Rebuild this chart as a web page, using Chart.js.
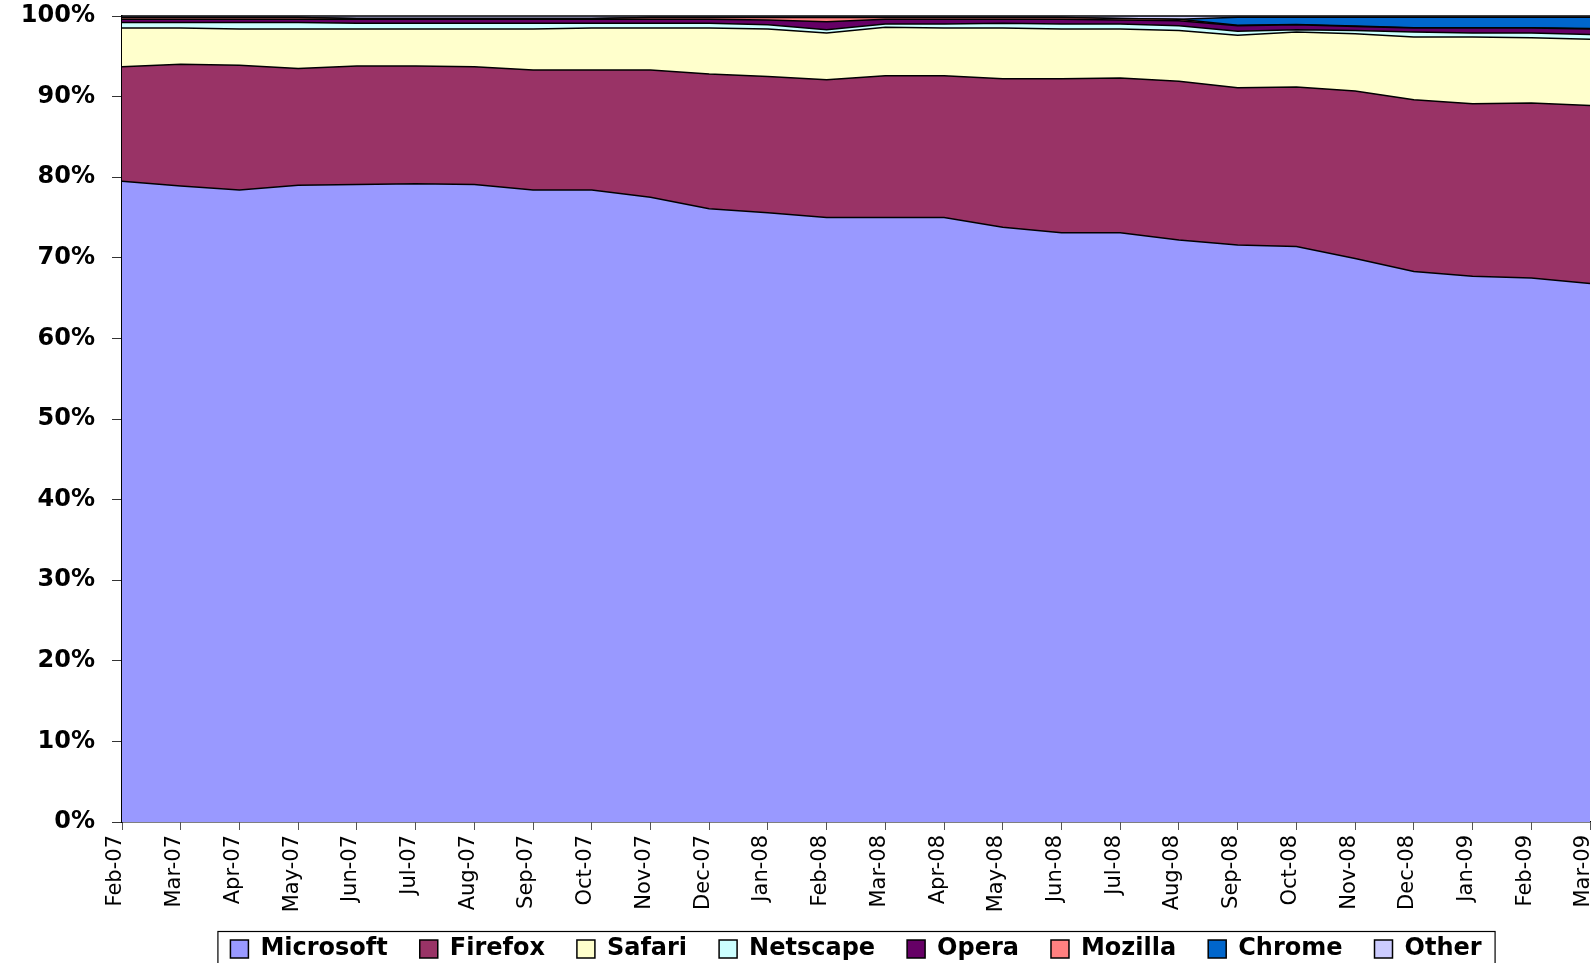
<!DOCTYPE html>
<html>
<head>
<meta charset="utf-8">
<script src="https://cdn.jsdelivr.net/npm/chart.js@4.4.1/dist/chart.umd.min.js"></script>
<style>
  html, body { margin: 0; padding: 0; background: #fff; }
  #chart { display: block; }
</style>
</head>
<body>
<canvas id="chart" width="1591" height="963" style="width:1591px;height:963px"></canvas>
<script>
const months = ['Feb-07', 'Mar-07', 'Apr-07', 'May-07', 'Jun-07', 'Jul-07', 'Aug-07', 'Sep-07', 'Oct-07',
  'Nov-07', 'Dec-07', 'Jan-08', 'Feb-08', 'Mar-08', 'Apr-08', 'May-08', 'Jun-08', 'Jul-08', 'Aug-08',
  'Sep-08', 'Oct-08', 'Nov-08', 'Dec-08', 'Jan-09', 'Feb-09', 'Mar-09'];

const microsoft = [79.5, 78.9, 78.4, 79.0, 79.1, 79.2, 79.1, 78.4, 78.4, 77.5, 76.1, 75.6, 75.0, 75.0, 75.0,
  73.8, 73.1, 73.1, 72.2, 71.6, 71.4, 69.9, 68.3, 67.7, 67.5, 66.8];
const firefox = [14.2, 15.1, 15.5, 14.5, 14.7, 14.6, 14.6, 14.9, 14.9, 15.8, 16.7, 16.9, 17.1, 17.6, 17.6,
  18.4, 19.1, 19.2, 19.7, 19.5, 19.8, 20.8, 21.3, 21.4, 21.7, 22.1];
const safari = [4.8, 4.5, 4.5, 4.9, 4.6, 4.6, 4.7, 5.1, 5.2, 5.2, 5.7, 5.9, 5.8, 6.0, 5.9,
  6.3, 6.2, 6.1, 6.3, 6.5, 6.8, 7.1, 7.8, 8.3, 8.1, 8.2];
const netscape = [0.7, 0.7, 0.8, 0.8, 0.7, 0.7, 0.7, 0.7, 0.6, 0.6, 0.6, 0.5, 0.4, 0.4, 0.5,
  0.6, 0.6, 0.6, 0.6, 0.5, 0.3, 0.4, 0.6, 0.5, 0.6, 0.6];
const opera = [0.4, 0.4, 0.4, 0.4, 0.5, 0.5, 0.5, 0.5, 0.5, 0.5, 0.5, 0.6, 1.0, 0.6, 0.6,
  0.5, 0.6, 0.5, 0.6, 0.7, 0.6, 0.5, 0.5, 0.6, 0.6, 0.7];
const mozilla = [0.2, 0.2, 0.2, 0.2, 0.1, 0.1, 0.1, 0.1, 0.1, 0.2, 0.2, 0.3, 0.5, 0.2, 0.2,
  0.2, 0.2, 0.2, 0.2, 0.05, 0.05, 0.05, 0.05, 0.05, 0.05, 0.05];
const chrome = [0, 0, 0, 0, 0, 0, 0, 0, 0, 0, 0, 0, 0, 0, 0,
  0, 0, 0, 0, 1.0, 0.9, 1.1, 1.3, 1.3, 1.3, 1.4];
const other = [0.2, 0.2, 0.2, 0.2, 0.3, 0.3, 0.3, 0.3, 0.3, 0.2, 0.2, 0.2, 0.2, 0.2, 0.2,
  0.2, 0.2, 0.3, 0.4, 0.15, 0.15, 0.15, 0.15, 0.15, 0.15, 0.15];

const percentTicks = [0, 10, 20, 30, 40, 50, 60, 70, 80, 90, 100];

function area(label, data, color, first) {
  return {
    label,
    data,
    backgroundColor: color,
    borderColor: '#000',
    borderWidth: 1.5,
    pointRadius: 0,
    pointHoverRadius: 0,
    tension: 0,
    fill: first ? 'origin' : '-1',
    clip: false
  };
}

// the month labels run a little past the axis box; don't let them get clipped
const longLabels = {
  id: 'longLabels',
  afterLayout(chart) {
    chart.scales.x.bottom = chart.height;
  }
};

// black frame round the legend, like the Excel legend box
const legendFrame = {
  id: 'legendFrame',
  afterDraw(chart) {
    const boxes = chart.legend && chart.legend.legendHitBoxes;
    if (!boxes || !boxes.length) return;
    const ctx = chart.ctx;
    const last = boxes[boxes.length - 1];
    const left = boxes[0].left - 13;
    const right = last.left + last.width + 13;
    const top = boxes[0].top - 6;
    ctx.save();
    ctx.strokeStyle = '#000';
    ctx.lineWidth = 1.2;
    ctx.strokeRect(left + 0.5, top + 0.5, right - left, chart.height - top + 10);
    ctx.restore();
  }
};

new Chart(document.getElementById('chart'), {
  type: 'line',
  data: {
    labels: months,
    datasets: [
      area('Microsoft', microsoft, '#9999FF', true),
      area('Firefox', firefox, '#993366'),
      area('Safari', safari, '#FFFFCC'),
      area('Netscape', netscape, '#CCFFFF'),
      area('Opera', opera, '#660066'),
      area('Mozilla', mozilla, '#FF8080'),
      area('Chrome', chrome, '#0066CC'),
      area('Other', other, '#CCCCFF')
    ]
  },
  options: {
    responsive: false,
    animation: false,
    layout: { padding: { top: 16, right: 1, left: 0, bottom: -8 } },
    plugins: {
      tooltip: { enabled: false },
      legend: {
        position: 'bottom',
        fullSize: false,
        labels: {
          color: '#000',
          font: { family: 'DejaVu Sans', size: 24, weight: 'bold' },
          boxWidth: 18,
          boxHeight: 18,
          padding: 32
        }
      }
    },
    scales: {
      x: {
        offset: false,
        grid: { drawOnChartArea: false, color: '#555', tickLength: 8 },
        border: { color: '#000', width: 1.5 },
        ticks: {
          color: '#000',
          font: { family: 'DejaVu Sans', size: 21 },
          minRotation: 90,
          maxRotation: 90,
          autoSkip: false,
          padding: 5,
          labelOffset: -6
        },
        afterFit(scale) {
          scale.height = 83;
          scale.paddingLeft = 0;
          scale.paddingRight = 0;
        }
      },
      y: {
        stacked: true,
        min: 0,
        max: 100,
        grid: { drawOnChartArea: false, color: '#333', tickLength: 10 },
        border: { color: '#000', width: 1.5 },
        afterBuildTicks(scale) {
          scale.ticks = percentTicks.map((v) => ({ value: v }));
        },
        ticks: {
          color: '#000',
          font: { family: 'DejaVu Sans', size: 24, weight: 'bold' },
          padding: 17,
          callback: (v) => v + '%'
        },
        afterFit(scale) {
          scale.width = 122;
          scale.paddingTop = 0;
          scale.paddingBottom = 0;
        }
      }
    }
  },
  plugins: [longLabels, legendFrame]
});
</script>
</body>
</html>
